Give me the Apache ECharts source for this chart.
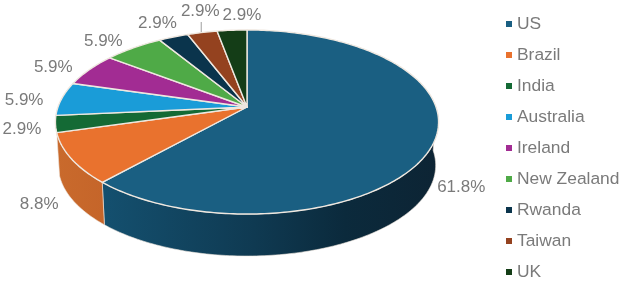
<!DOCTYPE html>
<html>
<head>
<meta charset="utf-8">
<style>html,body{margin:0;padding:0;background:#fff}#c{width:622px;height:281px}</style>
<script src="https://cdn.jsdelivr.net/npm/echarts@6/dist/echarts.min.js"></script>
</head>
<body>
<div id="c"></div>
<script>
var categories = ['US','Brazil','India','Australia','Ireland','New Zealand','Rwanda','Taiwan','UK'];
var counts = [21,3,1,2,2,2,1,1,1];
var topColors = ['#1a5f82','#e9722e','#146a35','#1a9cd8','#a22c93','#4faa47','#0a344c','#94421f','#143d17'];
var labelNudges = [[27,46],[-32,46],[-33.5,5],[-37.5,1],[-36,-2],[-30,-7],[-16,-14],[-2,-21.5],[10,-15]];

var total = counts.reduce(function(a,b){return a+b;},0);
var starts = [], run = 0;
counts.forEach(function(v){starts.push(run); run += v;});

var APEX_X = 247, APEX_Y = 107, A = 189, B = 89.6, K = 0.163, DEPTH = 43.6, BOTTOM_SCALE = 0.985;
var WALL_FROM = 90, WALL_TO = 254.3;

function rim(deg, scale, drop){
  var t = deg*Math.PI/180, u = Math.sin(t), v = -Math.cos(t), d = 1-K*v;
  return [APEX_X + scale*A*u/d, APEX_Y + scale*B*v/d + drop];
}
function arc(a0,a1,scale,drop){
  var pts = [], n = Math.max(2,Math.ceil(Math.abs(a1-a0)));
  for (var i=0;i<=n;i++) pts.push(rim(a0+(a1-a0)*i/n,scale,drop));
  return pts;
}
var wallFills = {
  0:{type:'linear',x:0,y:0,x2:1,y2:0,colorStops:[{offset:0,color:'#14506f'},{offset:0.45,color:'#0f3a52'},{offset:0.72,color:'#0b2a3c'},{offset:1,color:'#0d2434'}]},
  1:{type:'linear',x:0,y:0,x2:1,y2:0,colorStops:[{offset:0,color:'#c96a2c'},{offset:1,color:'#c5652a'}]}
};
function render(idx){
  return function(params, api){
    var a0 = starts[idx]/total*360, a1 = (starts[idx]+counts[idx])/total*360;
    var kids = [];
    var w0 = Math.max(a0,WALL_FROM), w1 = Math.min(a1,WALL_TO);
    if (w1-w0 > 1 && wallFills[idx]) {
      var wall = arc(w0,w1,1,0).concat(arc(w1,w0,BOTTOM_SCALE,DEPTH));
      kids.push({type:'polygon',shape:{points:wall},style:{fill:wallFills[idx],stroke:'#eee6de',lineWidth:0.6}});
    }
    kids.push({type:'polygon',shape:{points:[[APEX_X,APEX_Y]].concat(arc(a0,a1,1,0))},
      style:{fill:api.visual('color'),stroke:'#efe8e0',lineWidth:1.4,lineJoin:'round'}});
    var mid = rim((a0+a1)/2,1,0), n = labelNudges[idx];
    if (categories[idx]==='Taiwan') {
      kids.push({type:'line',shape:{x1:mid[0]-1,y1:mid[1]-0.5,x2:mid[0]-1,y2:mid[1]-10.5},style:{stroke:'#b4b4b4',lineWidth:1.3}});
    }
    kids.push({type:'text',z2:10,style:{x:mid[0]+n[0],y:mid[1]+n[1],text:(counts[idx]/total*100).toFixed(1)+'%',
      fill:'#7a7a7a',font:'17px "Liberation Sans", Arial, sans-serif',textAlign:'center',textVerticalAlign:'middle'}});
    return {type:'group',children:kids};
  };
}
var chart = echarts.init(document.getElementById('c'),null,{renderer:'canvas'});
chart.setOption({
  animation:false,
  color:topColors,
  legend:{orient:'vertical',left:506,top:15,icon:'rect',itemWidth:6,itemHeight:6,itemGap:13,
    data:categories,selectedMode:false,padding:0,
    textStyle:{color:'#7a7a7a',fontSize:17.4,lineHeight:18,fontFamily:'"Liberation Sans", Arial, sans-serif',padding:[0,0,0,0]}},
  series:categories.map(function(name,i){
    return {type:'custom',name:name,coordinateSystem:'none',silent:true,data:[[counts[i]]],renderItem:render(i)};
  })
});
</script>
</body>
</html>
